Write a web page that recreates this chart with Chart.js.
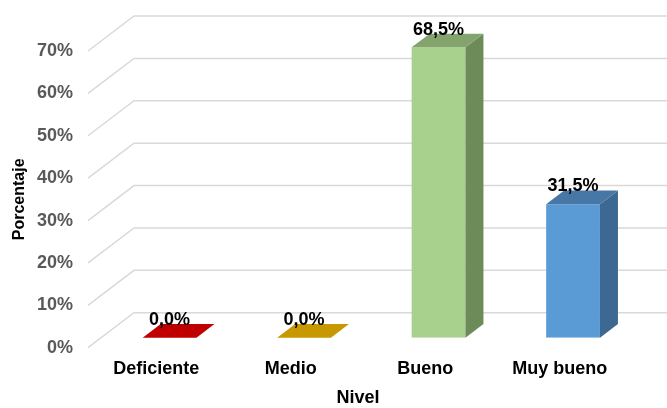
<!DOCTYPE html>
<html lang="es">
<head>
    <meta charset="UTF-8">
    <title>Nivel - Porcentaje</title>
    <script src="https://cdn.jsdelivr.net/npm/chart.js"></script>
    <style>
        html, body {
            margin: 0;
            padding: 0;
            background: #ffffff;
        }
        .chart-box {
            width: 667px;
            height: 408px;
        }
    </style>
</head>
<body>
    <div class="chart-box">
        <canvas id="nivelChart"></canvas>
    </div>

    <script>
        // datos
        var niveles = ["Deficiente", "Medio", "Bueno", "Muy bueno"];
        var porcentajes = [0.0, 0.0, 68.5, 31.5];
        var etiquetas = ["0,0%", "0,0%", "68,5%", "31,5%"];
        var ticksY = [0, 10, 20, 30, 40, 50, 60, 70];

        // colores de cada barra: frente, lado, tapa
        var frente = ["#C00000", "#C79800", "#A9D18E", "#5B9BD5"];
        var lado = ["#8E0000", "#946F00", "#6D8B59", "#3D6891"];
        var tapa = ["#C00000", "#C79800", "#84A46E", "#4677A6"];

        var FONT = "'Liberation Sans', Arial, sans-serif";

        // desplazamiento del plano de barras y profundidad
        var barShift = { x: 13.3, y: -10 };
        var barDepth = { x: 18, y: -13.7 };
        var wallDepth = { x: 46, y: -35 };

        // rejilla en perspectiva (frente diagonal + pared del fondo)
        var grid3d = {
            id: "grid3d",
            beforeDatasetsDraw: function (chart) {
                var ctx = chart.ctx;
                var yScale = chart.scales.y;
                var area = chart.chartArea;
                ctx.save();
                ctx.strokeStyle = "#D9D9D9";
                ctx.lineWidth = 1.5;
                ticksY.forEach(function (t) {
                    var py = yScale.getPixelForValue(t);
                    ctx.beginPath();
                    ctx.moveTo(area.left - 1, py);
                    ctx.lineTo(area.left - 1 + wallDepth.x, py + wallDepth.y);
                    ctx.lineTo(chart.width, py + wallDepth.y);
                    ctx.stroke();
                });
                ctx.restore();

                // las barras se dibujan en un plano desplazado
                ctx.save();
                ctx.translate(barShift.x, barShift.y);
            },
            afterDatasetsDraw: function (chart) {
                var ctx = chart.ctx;
                ctx.restore();

                var meta = chart.getDatasetMeta(0);
                ctx.save();
                meta.data.forEach(function (bar, i) {
                    var p = bar.getProps(["x", "y", "base", "width"], true);
                    var l = p.x - p.width / 2 + barShift.x;
                    var r = p.x + p.width / 2 + barShift.x;
                    var top = p.y + barShift.y;
                    var bottom = p.base + barShift.y;

                    // lado derecho
                    if (bottom - top > 0.5) {
                        ctx.fillStyle = lado[i];
                        ctx.beginPath();
                        ctx.moveTo(r, top);
                        ctx.lineTo(r + barDepth.x, top + barDepth.y);
                        ctx.lineTo(r + barDepth.x, bottom + barDepth.y);
                        ctx.lineTo(r, bottom);
                        ctx.closePath();
                        ctx.fill();
                    }

                    // tapa
                    ctx.fillStyle = tapa[i];
                    ctx.beginPath();
                    ctx.moveTo(l, top);
                    ctx.lineTo(l + barDepth.x, top + barDepth.y);
                    ctx.lineTo(r + barDepth.x, top + barDepth.y);
                    ctx.lineTo(r, top);
                    ctx.closePath();
                    ctx.fill();

                    // etiqueta de datos
                    ctx.fillStyle = "#000000";
                    ctx.font = "bold 18px " + FONT;
                    ctx.textAlign = "center";
                    ctx.textBaseline = "alphabetic";
                    ctx.fillText(etiquetas[i], p.x + barShift.x, top + barDepth.y + 1);
                });
                ctx.restore();
            }
        };

        var ctx = document.getElementById("nivelChart").getContext("2d");
        var nivelChart = new Chart(ctx, {
            type: "bar",
            data: {
                labels: niveles,
                datasets: [{
                    data: porcentajes,
                    backgroundColor: frente,
                    borderWidth: 0,
                    barPercentage: 0.4,
                    categoryPercentage: 1
                }]
            },
            options: {
                responsive: true,
                maintainAspectRatio: false,
                animation: false,
                layout: {
                    padding: { top: 51, right: 40, left: 0, bottom: 0 }
                },
                plugins: {
                    legend: { display: false },
                    tooltip: { enabled: false }
                },
                scales: {
                    x: {
                        grid: { display: false, drawTicks: false },
                        border: { display: false },
                        ticks: {
                            color: "#000000",
                            padding: 10.5,
                            maxRotation: 0,
                            font: { family: FONT, size: 18, weight: "bold" }
                        },
                        title: {
                            display: true,
                            text: "Nivel",
                            color: "#000000",
                            padding: { top: 0, bottom: 1 },
                            font: { family: FONT, size: 18, weight: "bold", lineHeight: 1 }
                        },
                        afterFit: function (scale) {
                            scale.height = 60.3;
                        }
                    },
                    y: {
                        min: 0,
                        max: 70,
                        grid: { display: false, drawTicks: false },
                        border: { display: false },
                        ticks: {
                            stepSize: 10,
                            color: "#595959",
                            padding: 16,
                            font: { family: FONT, size: 18, weight: "bold" },
                            callback: function (v) { return v + "%"; }
                        },
                        title: {
                            display: true,
                            text: "Porcentaje",
                            color: "#000000",
                            padding: { top: 10, bottom: 0 },
                            font: { family: FONT, size: 16, weight: "bold" }
                        },
                        afterFit: function (scale) {
                            scale.width = 89;
                        }
                    }
                }
            },
            plugins: [grid3d]
        });
    </script>
</body>
</html>
